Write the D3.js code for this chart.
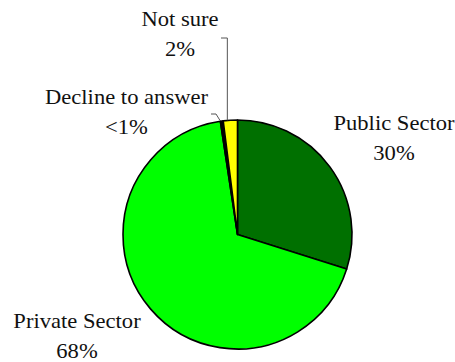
<!DOCTYPE html>
<html>
<head>
<meta charset="utf-8">
<script src="https://cdn.jsdelivr.net/npm/d3@7"></script>
<style>
  html, body { margin: 0; padding: 0; background: #fff; }
  svg { display: block; }
  text.lbl { font-family: "Liberation Serif", Tinos, "Times New Roman", "DejaVu Serif", "Noto Serif", serif; font-size: 20px; }
</style>
</head>
<body>
<svg id="chart" width="455" height="362"></svg>
<script>
// Survey responses by employment sector
const categories = ["Public Sector", "Private Sector", "Decline to answer", "Not sure"];
const shares = [30, 68, 0.4, 2];
const valueLabels = ["30%", "68%", "<1%", "2%"];
const sliceColors = ["#007000", "#00ff00", "#000000", "#ffff00"];

const svg = d3.select("#chart");
const cx = 237.5, cy = 234.5, radius = 114.5;

const rows = categories.map((c, i) => ({ category: c, share: shares[i], label: valueLabels[i], color: sliceColors[i] }));

const pie = d3.pie().sort(null).value(d => d.share).startAngle(0).endAngle(2 * Math.PI);
const arc = d3.arc().innerRadius(0).outerRadius(radius);
const arcs = pie(rows);

const g = svg.append("g").attr("transform", `translate(${cx},${cy})`);

g.selectAll("path.slice")
  .data(arcs)
  .enter().append("path")
  .attr("class", "slice")
  .attr("d", arc)
  .attr("fill", d => d.data.color)
  .attr("stroke", "#000")
  .attr("stroke-width", 1.6)
  .attr("stroke-linejoin", "round");

// point on the rim at a slice's middle angle (page coordinates)
function rimPoint(a) {
  const ang = (a.startAngle + a.endAngle) / 2;
  return [cx + radius * Math.sin(ang), cy - radius * Math.cos(ang)];
}

// label placement: text centre x, first baseline y
const labelPlace = {
  "Public Sector":     { x: 394, y: 129.5 },
  "Private Sector":    { x: 77,  y: 327.5 },
  "Decline to answer": { x: 126.5, y: 104 },
  "Not sure":          { x: 180, y: 25.5 }
};
const lineGap = 30;

// leader lines for the two thin slices
const leader = d3.line();
const byName = Object.fromEntries(arcs.map(a => [a.data.category, a]));

const ns = rimPoint(byName["Not sure"]);
svg.append("path")
  .attr("d", leader([[221, 38], [ns[0] - 3, 38], [ns[0] - 3, ns[1]]]))
  .attr("fill", "none").attr("stroke", "#555").attr("stroke-width", 1);

const dc = rimPoint(byName["Decline to answer"]);
svg.append("path")
  .attr("d", leader([[211, 114], [216, 114], [dc[0] - 2, dc[1] - 1]]))
  .attr("fill", "none").attr("stroke", "#555").attr("stroke-width", 1);

// two-line category / percentage labels
arcs.forEach(a => {
  const p = labelPlace[a.data.category];
  [a.data.category, a.data.label].forEach((t, k) => {
    svg.append("text")
      .attr("class", "lbl")
      .attr("transform", `translate(${p.x},${p.y + k * lineGap}) scale(1.13,1)`)
      .attr("text-anchor", "middle")
      .attr("fill", "#111")
      .text(t);
  });
});
</script>
</body>
</html>
